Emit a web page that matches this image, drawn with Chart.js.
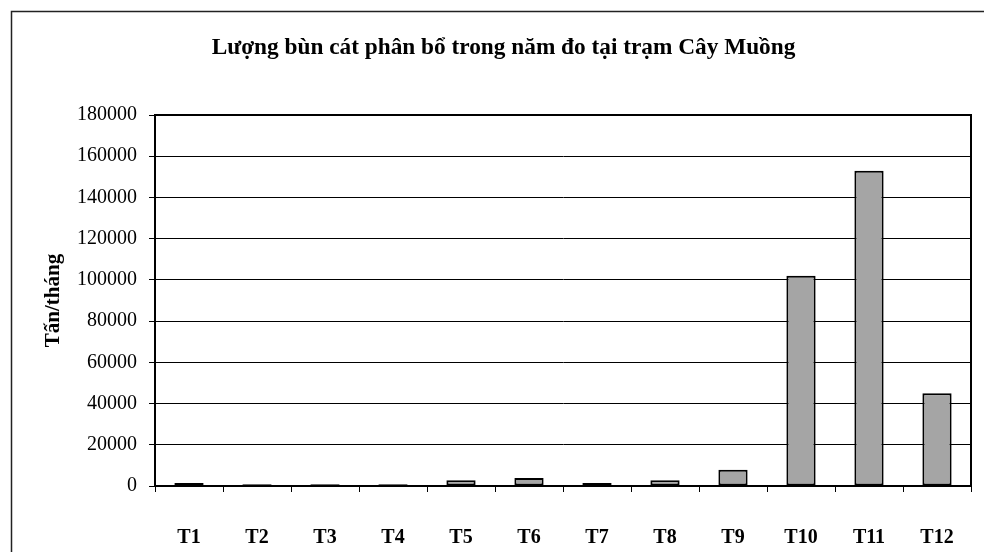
<!DOCTYPE html>
<html>
<head>
<meta charset="utf-8">
<script src="https://cdn.jsdelivr.net/npm/chart.js@4/dist/chart.umd.min.js"></script>
<style>
  html, body { margin: 0; padding: 0; background: #fff; }
  #wrap { width: 984px; height: 552px; position: relative; }
</style>
</head>
<body>
<div id="wrap"><canvas id="c" width="984" height="552"></canvas></div>
<script>
// Monthly sediment load at Cây Muồng station (tonnes/month)
const months = ['T1', 'T2', 'T3', 'T4', 'T5', 'T6', 'T7', 'T8', 'T9', 'T10', 'T11', 'T12'];
const sediment = [1500, 900, 900, 900, 2800, 3900, 1400, 2800, 7900, 102000, 153000, 45000];
const yMin = 0;
const yMax = 180000;
const yStep = 20000;
const titleText = 'Lượng bùn cát phân bổ trong năm đo tại trạm Cây Muồng';
const yTitleText = 'Tấn/tháng';

const serif = '"Liberation Serif", "Times New Roman", serif';

// Outer frame of the chart object; it runs on past the right and bottom edges
const frameBox = { left: 11.5, top: 11.5, width: 984, height: 600 };

const framePlugin = {
  id: 'frame',
  beforeDraw(chart) {
    const ctx = chart.ctx;
    ctx.save();
    ctx.fillStyle = '#ffffff';
    ctx.fillRect(0, 0, chart.width, chart.height);
    ctx.strokeStyle = '#222';
    ctx.lineWidth = 1.5;
    ctx.strokeRect(frameBox.left, frameBox.top, frameBox.width, frameBox.height);
    // heading, centred on the frame
    ctx.fillStyle = '#000';
    ctx.font = 'bold 23.3px ' + serif;
    ctx.textAlign = 'center';
    ctx.textBaseline = 'middle';
    ctx.fillText(titleText, frameBox.left + frameBox.width / 2, 48);
    ctx.restore();
  },
  afterDraw(chart) {
    // closing lines of the plot box (top and right)
    const a = chart.chartArea;
    const ctx = chart.ctx;
    ctx.save();
    ctx.strokeStyle = '#000';
    ctx.lineWidth = 2;
    ctx.beginPath();
    ctx.moveTo(a.left, a.top);
    ctx.lineTo(a.right, a.top);
    ctx.lineTo(a.right, a.bottom);
    ctx.stroke();
    ctx.restore();
  }
};

new Chart(document.getElementById('c'), {
  type: 'bar',
  data: {
    labels: months,
    datasets: [{
      data: sediment,
      backgroundColor: '#a5a5a5',
      borderColor: '#000',
      borderWidth: 2,
      borderSkipped: false,
      categoryPercentage: 1,
      barPercentage: 0.43
    }]
  },
  options: {
    responsive: false,
    animation: false,
    devicePixelRatio: 1,
    layout: { padding: { left: 0, right: 13, top: 115, bottom: 0 } },
    plugins: {
      legend: { display: false },
      tooltip: { enabled: false },
      title: { display: false }
    },
    scales: {
      x: {
        grid: {
          offset: true,
          drawOnChartArea: false,
          drawTicks: true,
          tickLength: 6,
          color: '#000',
          lineWidth: 1
        },
        border: { display: true, color: '#000', width: 2 },
        ticks: {
          color: '#000',
          padding: 34,
          maxRotation: 0,
          autoSkip: false,
          font: { family: serif, size: 20, weight: 'bold' }
        },
        afterFit(scale) {
          scale.height = 66;
          // labels sit well inside their categories, no side margin needed
          scale.paddingLeft = 0;
          scale.paddingRight = 0;
        }
      },
      y: {
        min: yMin,
        max: yMax,
        grid: {
          color: '#000',
          lineWidth: 1,
          drawTicks: true,
          tickLength: 6
        },
        border: { display: true, color: '#000', width: 2 },
        ticks: {
          stepSize: yStep,
          color: '#000',
          padding: 12,
          font: { family: serif, size: 20 },
          callback: (v) => String(v)
        },
        title: {
          display: true,
          text: yTitleText,
          color: '#000',
          font: { family: serif, size: 21, weight: 'bold' },
          padding: { top: 41, bottom: 0 }
        },
        afterFit(scale) { scale.width = 155; }
      }
    }
  },
  plugins: [framePlugin]
});
</script>
</body>
</html>
